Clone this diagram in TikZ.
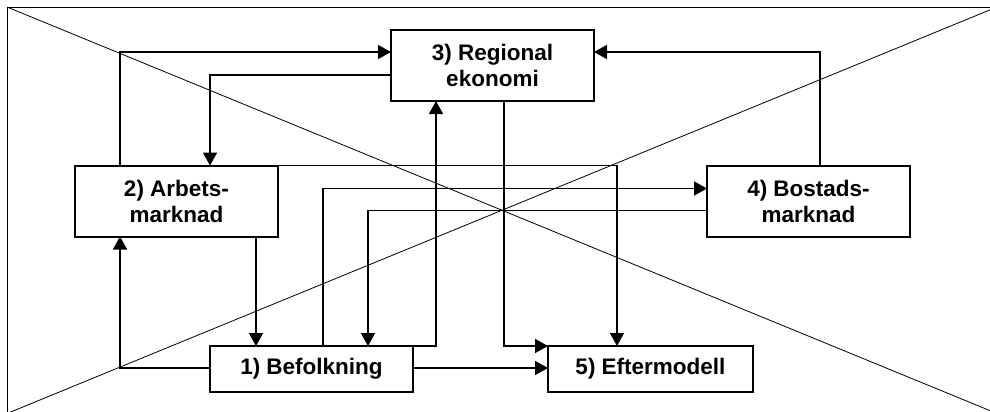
\documentclass[tikz,border=0pt]{standalone}
\usepackage{fontspec}
\setmainfont{Liberation Sans}
\usetikzlibrary{arrows.meta}

\tikzset{
  module/.style={draw, line width=2pt, rectangle, inner sep=0pt, outer sep=0pt,
    minimum width=203pt, align=center,
    font=\fontsize{22.5}{26}\selectfont\bfseries},
  tallbox/.style={module, minimum height=71pt},
  flatbox/.style={module, minimum height=46pt},
  link/.style={line width=1.5pt, -{Triangle[length=13pt,width=14pt]}},
  frameline/.style={line width=0.8pt}
}

\begin{document}
\begin{tikzpicture}[x=1pt, y=-1pt]
  \useasboundingbox (0,0) rectangle (990,412);
  \clip (0,0) rectangle (990,412);

  % outer frame with its crossing diagonals
  \draw[frameline] (7,7) rectangle (997,413.5);
  \draw[frameline] (7,7) -- (997,413.5);
  \draw[frameline] (7,413.5) -- (997,7);

  % model blocks
  \node[tallbox] (b3) at (492.5,65.5) {3) Regional\\ekonomi};
  \node[tallbox] (b2) at (176.5,201) {2) Arbets-\\marknad};
  \node[tallbox] (b4) at (808.5,201) {4) Bostads-\\marknad};
  \node[flatbox] (b1) at (311.5,369) {1) Befolkning};
  \node[flatbox, minimum width=205pt] (b5) at (650.5,369) {5) Eftermodell};

  % links between the blocks
  \draw[link] ([xshift=45pt]b2.north west) |- ([yshift=-22pt]b3.north west);
  \draw[link] ([yshift=-45pt]b3.north west) -| ([xshift=135pt]b2.north west);
  \draw[link] ([xshift=113pt]b4.north west) |- ([yshift=-22pt]b3.north east);
  \draw[link] (b1.north east) -| ([xshift=45pt]b3.south west);
  \draw[link] ([xshift=113pt]b3.south west) |- (b5.north west);
  \draw[link] ([yshift=-22pt]b1.north east) -- ([yshift=-22pt]b5.north west);
  \draw[link] (b2.north east) -| ([xshift=69pt]b5.north west);
  \draw[link] ([xshift=113pt]b1.north west) |- ([yshift=-23pt]b4.north west);
  \draw[link] ([yshift=-45pt]b4.north west) -| ([xshift=158pt]b1.north west);
  \draw[link] ([xshift=181pt]b2.south west) -- ([xshift=46pt]b1.north west);
  \draw[link] ([yshift=-22pt]b1.north west) -| ([xshift=45pt]b2.south west);
\end{tikzpicture}
\end{document}
